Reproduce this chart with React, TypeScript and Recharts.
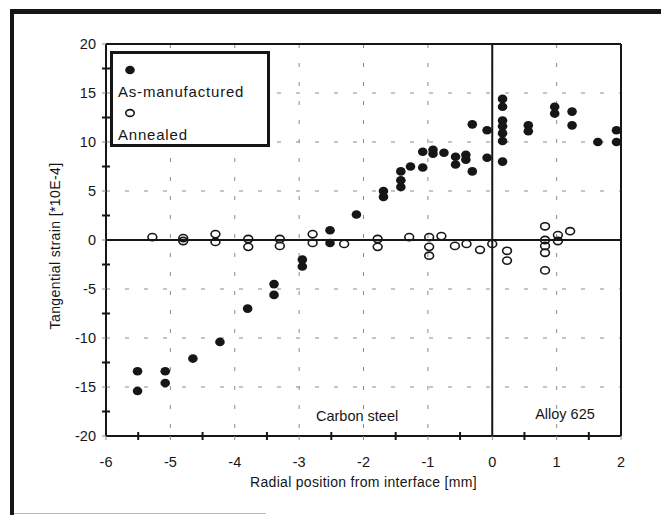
import React from 'react';
import {
  ScatterChart, Scatter, XAxis, YAxis, CartesianGrid, ReferenceLine, ReferenceDot,
} from 'recharts';

const xTicks = [-6, -5, -4, -3, -2, -1, 0, 1, 2];
const yTicks = [-20, -15, -10, -5, 0, 5, 10, 15, 20];
const minorX = [-5.5, -4.5, -3.5, -2.5, -1.5, -0.5, 0.5, 1.5];
const minorY = [-17.5, -12.5, -7.5, -2.5, 2.5, 7.5, 12.5, 17.5];

const asManufacturedX = [
  -5.51, -5.51, -5.08, -5.08, -4.65, -4.23, -3.8, -3.39, -3.39, -2.95, -2.95, -2.52, -2.52,
  -2.11, -1.69, -1.69, -1.42, -1.42, -1.42, -1.27, -1.08, -1.08, -0.92, -0.92, -0.75, -0.57,
  -0.57, -0.41, -0.41, -0.31, -0.31, -0.08, -0.08, 0.16, 0.16, 0.16, 0.16, 0.16, 0.16, 0.16,
  0.56, 0.56, 0.97, 0.97, 1.24, 1.24, 1.64, 1.93, 1.93,
];
const asManufacturedY = [
  -13.4, -15.4, -13.4, -14.6, -12.1, -10.4, -7.0, -4.5, -5.6, -2.0, -2.7, 1.0, -0.3,
  2.6, 5.0, 4.4, 7.0, 6.1, 5.4, 7.5, 7.4, 9.0, 9.2, 8.8, 8.9, 8.5,
  7.7, 8.7, 8.2, 7.0, 11.8, 11.2, 8.4, 14.4, 13.6, 12.2, 11.6, 10.9, 10.1, 8.0,
  11.7, 11.1, 13.6, 12.9, 13.1, 11.7, 10.0, 11.2, 10.0,
];

const annealedX = [
  -5.28, -4.8, -4.8, -4.3, -4.3, -3.79, -3.79, -3.3, -3.3, -2.79, -2.79, -2.3, -1.78, -1.78,
  -1.29, -0.98, -0.98, -0.98, -0.79, -0.58, -0.4, -0.19, 0, 0.23, 0.23, 0.82, 0.82, 0.82,
  0.82, 0.82, 1.02, 1.02, 1.21,
];
const annealedY = [
  0.3, 0.2, -0.1, 0.6, -0.2, 0.1, -0.7, 0.1, -0.6, 0.6, -0.3, -0.4, 0.1, -0.7,
  0.3, 0.3, -0.7, -1.6, 0.4, -0.6, -0.4, -1.0, -0.4, -1.1, -2.1, 1.4, 0.0, -0.6,
  -1.3, -3.1, 0.5, -0.1, 0.9,
];

const asManufactured = asManufacturedX.map((x, i) => ({ x, y: asManufacturedY[i] }));
const annealed = annealedX.map((x, i) => ({ x, y: annealedY[i] }));

const font = '"Liberation Sans", Arial, sans-serif';
const ink = '#161616';

const FilledDot = ({ cx, cy }: any) => (
  <ellipse cx={cx} cy={cy} rx={4.8} ry={4.3} fill={ink} />
);
const OpenDot = ({ cx, cy }: any) => (
  <ellipse cx={cx} cy={cy} rx={4.4} ry={3.6} fill="none" stroke={ink} strokeWidth={1.6} />
);
const HTick = ({ cx, cy }: any) => (
  <line x1={cx - 4} x2={cx + 4} y1={cy} y2={cy} stroke={ink} strokeWidth={2} />
);
const VTick = ({ cx, cy }: any) => (
  <line x1={cx} x2={cx} y1={cy - 4} y2={cy + 4} stroke={ink} strokeWidth={2} />
);

// legend drawn as an overlay so it doesn't shrink the plot area
const LegendBox = () => (
  <div
    style={{
      position: 'absolute', left: 110, top: 51, width: 154, height: 90,
      border: `3px solid ${ink}`, background: '#fff',
      fontFamily: font, fontSize: 15, color: ink, letterSpacing: 0.8,
    }}
  >
    <svg width={20} height={12} style={{ position: 'absolute', left: 7, top: 10 }}>
      <ellipse cx={10} cy={6} rx={4.8} ry={4.3} fill={ink} />
    </svg>
    <div style={{ position: 'absolute', left: 5, top: 29, lineHeight: '18px' }}>As-manufactured</div>
    <svg width={20} height={12} style={{ position: 'absolute', left: 7, top: 53 }}>
      <ellipse cx={10} cy={6} rx={4.2} ry={3.4} fill="none" stroke={ink} strokeWidth={1.6} />
    </svg>
    <div style={{ position: 'absolute', left: 5, top: 72, lineHeight: '18px' }}>Annealed</div>
  </div>
);

const YTitle = ({ viewBox }: any) => {
  const x = viewBox.x - 1;
  const y = viewBox.y + viewBox.height / 2 + 6;
  return (
    <text
      x={x} y={y} transform={`rotate(-90, ${x}, ${y})`} textAnchor="middle"
      dominantBaseline="central" fontFamily={font} fontSize={14} fill={ink} letterSpacing={0.4}
    >
      Tangential strain [*10E-4]
    </text>
  );
};

export default function App() {
  return (
    <div
      style={{
        position: 'absolute', left: 0, top: 0, width: 661, height: 515,
        overflow: 'hidden', background: '#fff',
      }}
    >
      <div
        style={{
          position: 'absolute', left: 10, top: 9, width: 700, height: 600,
          borderLeft: `4px solid ${ink}`, borderTop: `5px solid ${ink}`,
        }}
      />
      <div style={{ position: 'absolute', left: 14, top: 513, width: 252, height: 1, background: '#bbb' }} />
      <div style={{ position: 'absolute', left: 0, top: 0 }}>
        <ScatterChart
          width={661}
          height={515}
          margin={{ top: 44, right: 40, bottom: 49, left: 56 }}
          style={{ fontFamily: font }}
        >
          <CartesianGrid stroke="#8a8a8a" strokeDasharray="4 15" strokeWidth={1} />
          <XAxis
            type="number" dataKey="x" domain={[-6, 2]} ticks={xTicks} height={30}
            axisLine={{ stroke: ink, strokeWidth: 2 }} tickLine={{ stroke: '#888' }}
            tickSize={4} tickMargin={17}
            tick={{ fill: ink, fontSize: 14.5, fontFamily: font }}
            label={{
              value: 'Radial position from interface [mm]', position: 'bottom', offset: 11,
              fill: ink, fontSize: 14, fontFamily: font, letterSpacing: 0.3,
            }}
          />
          <YAxis
            type="number" dataKey="y" domain={[-20, 20]} ticks={yTicks} width={50}
            axisLine={{ stroke: ink, strokeWidth: 2 }} tickLine={{ stroke: '#888' }}
            tickSize={4} tickMargin={6}
            tick={{ fill: ink, fontSize: 14.5, fontFamily: font }}
            label={{ content: <YTitle /> } as any}
          />
          <ReferenceLine y={20} stroke={ink} strokeWidth={2} />
          <ReferenceLine x={2} stroke={ink} strokeWidth={2} />
          <ReferenceLine y={0} stroke={ink} strokeWidth={2.2} />
          <ReferenceLine x={0} stroke={ink} strokeWidth={2} />
          {minorY.map((v) => (
            <ReferenceDot key={`my${v}`} x={-6} y={v} r={0} shape={<HTick />} />
          ))}
          {minorX.map((v) => (
            <ReferenceDot key={`mx${v}`} x={v} y={-20} r={0} shape={<VTick />} />
          ))}
          <ReferenceDot
            x={-2.1} y={-17.9} r={0} stroke="none" fill="none"
            label={{ value: 'Carbon steel', position: 'center', fill: ink, fontSize: 14.5, fontFamily: font }}
          />
          <ReferenceDot
            x={1.13} y={-17.7} r={0} stroke="none" fill="none"
            label={{ value: 'Alloy 625', position: 'center', fill: ink, fontSize: 14.5, fontFamily: font }}
          />
          <Scatter name="As-manufactured" data={asManufactured} shape={<FilledDot />} isAnimationActive={false} />
          <Scatter name="Annealed" data={annealed} shape={<OpenDot />} isAnimationActive={false} />
        </ScatterChart>
      </div>
      <LegendBox />
    </div>
  );
}
